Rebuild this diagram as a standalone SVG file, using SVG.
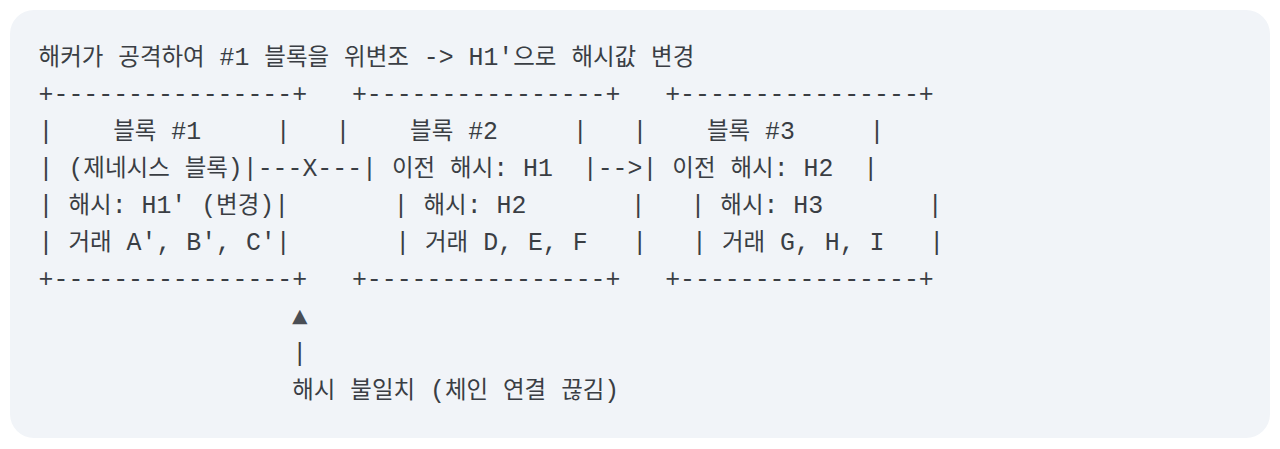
<svg xmlns="http://www.w3.org/2000/svg" width="1280" height="449" viewBox="0 0 1280 449" xml:space="preserve">
<style>
text{font-family:"Liberation Mono","Noto Sans CJK KR",monospace;font-size:24.87px;fill:#3a3e44;white-space:pre;}
.k{font-family:"Noto Sans CJK KR","Liberation Mono",sans-serif;font-size:23.48px;}
.tri{font-size:26px;fill:#4a4e55;}
</style>
<rect width="1280" height="449" fill="#ffffff"/>
<rect x="10" y="10" width="1260" height="428" rx="24" fill="#f1f4f8"/>
<g id="title"><text x="38.6" y="64.5"><tspan class="k">해커가</tspan> <tspan class="k">공격하여</tspan> #1 <tspan class="k">블록을</tspan> <tspan class="k">위변조</tspan> -&gt; H1'<tspan class="k">으로</tspan> <tspan class="k">해시값</tspan> <tspan class="k">변경</tspan></text></g>
<g id="block1">
<text x="38.6" y="101.5">+----------------+</text>
<text x="38.6" y="138.5">|    <tspan class="k">블록</tspan> #1     |</text>
<text x="38.6" y="175.5">| (<tspan class="k">제네시스</tspan> <tspan class="k">블록</tspan>)|</text>
<text x="38.6" y="212.5">| <tspan class="k">해시</tspan>: H1' (<tspan class="k">변경</tspan>)|</text>
<text x="38.6" y="249.5">| <tspan class="k">거래</tspan> A', B', C'|</text>
<text x="38.6" y="286.5">+----------------+</text>
</g>
<g id="block2">
<text x="351.9" y="101.5">+----------------+</text>
<text x="335.5" y="138.5">|    <tspan class="k">블록</tspan> #2     |</text>
<text x="362.1" y="175.5">| <tspan class="k">이전</tspan> <tspan class="k">해시</tspan>: H1  |</text>
<text x="393.6" y="212.5">| <tspan class="k">해시</tspan>: H2       |</text>
<text x="395.2" y="249.5">| <tspan class="k">거래</tspan> D, E, F   |</text>
<text x="351.9" y="286.5">+----------------+</text>
</g>
<g id="block3">
<text x="665.2" y="101.5">+----------------+</text>
<text x="632.4" y="138.5">|    <tspan class="k">블록</tspan> #3     |</text>
<text x="642.5" y="175.5">| <tspan class="k">이전</tspan> <tspan class="k">해시</tspan>: H2  |</text>
<text x="690.5" y="212.5">| <tspan class="k">해시</tspan>: H3       |</text>
<text x="692.1" y="249.5">| <tspan class="k">거래</tspan> G, H, I   |</text>
<text x="665.2" y="286.5">+----------------+</text>
</g>
<g id="connectors">
<text x="257.7" y="175.5">---X---</text>
<text x="597.7" y="175.5">--&gt;</text>
<text x="292" y="324.5" class="tri">▲</text>
<text x="292.2" y="360.5">|</text>
</g>
<g id="caption"><text x="292.2" y="397.5"><tspan class="k">해시</tspan> <tspan class="k">불일치</tspan> (<tspan class="k">체인</tspan> <tspan class="k">연결</tspan> <tspan class="k">끊김</tspan>)</text></g>
</svg>
